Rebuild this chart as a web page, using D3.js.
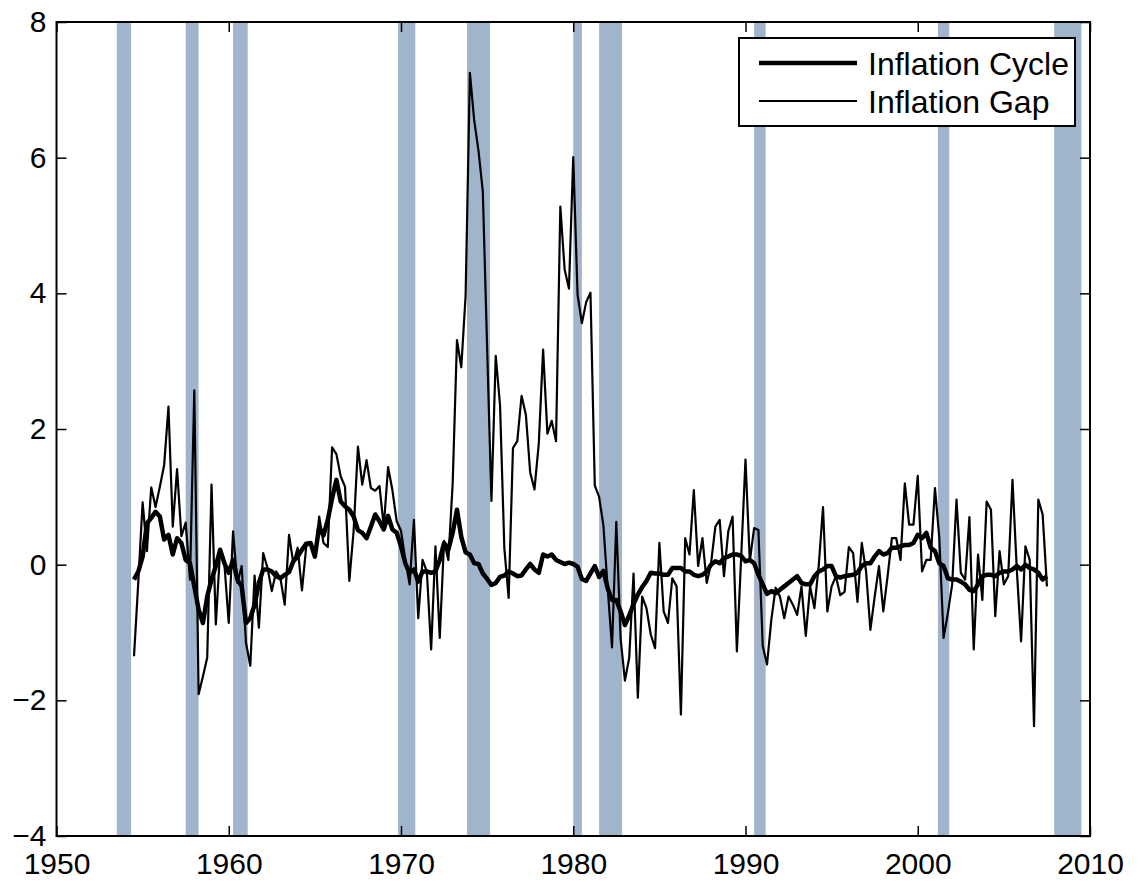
<!DOCTYPE html>
<html>
<head>
<meta charset="utf-8">
<script src="https://cdn.jsdelivr.net/npm/d3@7/dist/d3.min.js"></script>
<style>
  html, body { margin: 0; padding: 0; background: #fff; }
  svg text { font-family: "Liberation Sans", Arial, Helvetica, sans-serif; }
</style>
</head>
<body>
<svg id="chart" width="1139" height="886"></svg>
<script>
// ---------------- data ----------------
const startYear = 1954.5;   // first quarter plotted
const step = 0.25;          // quarterly

const inflationGap = [
  -1.35,-0.25,0.92,0.20,1.14,0.85,1.15,1.47,2.33,0.56,1.41,0.42,0.62,-0.22,2.57,-1.91,
  -1.65,-1.37,1.18,-0.88,0.22,0.00,-0.86,0.49,-0.27,-0.02,-1.15,-1.49,-0.16,-0.93,0.17,-0.05,
  -0.39,-0.10,-0.20,-0.59,0.44,0.02,0.25,-0.38,0.27,0.33,0.10,0.71,0.32,0.26,1.73,1.63,
  1.30,1.15,-0.24,0.50,1.74,1.18,1.54,1.13,1.09,1.16,0.56,1.44,1.10,0.64,0.50,0.07,
  -0.29,0.66,-0.79,0.07,-0.10,-1.25,0.27,-1.08,0.35,0.07,1.20,3.31,2.91,3.96,7.25,6.55,
  6.10,5.50,3.20,0.94,3.08,2.35,0.24,-0.49,1.72,1.82,2.49,2.21,1.36,1.11,1.79,3.17,
  1.93,2.12,1.82,5.28,4.35,4.07,6.01,3.98,3.56,3.87,4.01,1.17,1.00,0.58,-0.35,-1.22,
  0.63,-1.09,-1.71,-1.37,-0.13,-1.96,-0.47,-0.64,-1.03,-1.23,0.32,-0.69,-0.86,-0.20,-0.32,-2.21,
  0.39,0.15,1.10,-0.02,0.39,-0.27,0.02,0.56,0.66,-0.17,0.49,0.71,-1.28,0.12,1.55,0.05,
  0.54,0.51,-1.20,-1.47,-0.81,-0.34,-0.47,-0.79,-0.47,-0.59,-0.74,-0.32,-1.05,-0.32,-0.64,-0.02,
  0.85,-0.69,-0.32,-0.17,-0.45,-0.40,0.26,0.17,-0.55,0.32,-0.10,-0.96,-0.47,-0.02,-0.69,-0.17,
  0.39,0.39,0.07,1.20,0.59,0.59,1.31,-0.10,0.07,0.07,1.13,0.40,-1.08,-0.71,-0.29,0.96,
  -0.12,-0.22,0.70,-1.25,0.15,-0.52,0.93,0.81,-0.76,0.20,-0.29,-0.17,1.25,-0.07,-1.13,0.27,
  0.07,-2.38,0.96,0.74,-0.32
];

const inflationCycle = [
  -0.22,-0.10,0.12,0.61,0.69,0.78,0.71,0.37,0.44,0.15,0.39,0.32,0.07,0.02,-0.32,-0.66,
  -0.86,-0.47,-0.22,-0.02,0.22,0.02,-0.12,0.07,-0.22,-0.32,-0.86,-0.79,-0.59,-0.27,-0.07,-0.07,
  -0.10,-0.17,-0.20,-0.15,-0.11,0.05,0.12,0.22,0.31,0.32,0.12,0.56,0.43,0.66,0.98,1.25,
  0.93,0.86,0.81,0.71,0.51,0.47,0.39,0.56,0.74,0.64,0.52,0.72,0.52,0.47,0.27,0.02,
  -0.12,-0.07,-0.25,-0.10,-0.10,-0.12,-0.10,0.07,0.32,0.22,0.47,0.81,0.41,0.18,0.15,0.02,
  0.01,-0.13,-0.21,-0.30,-0.27,-0.18,-0.16,-0.10,-0.13,-0.17,-0.16,-0.07,0.01,-0.07,-0.12,0.15,
  0.12,0.15,0.07,0.04,0.01,0.03,0.01,-0.03,-0.21,-0.24,-0.13,-0.02,-0.18,-0.09,-0.35,-0.52,
  -0.52,-0.69,-0.89,-0.75,-0.58,-0.44,-0.33,-0.24,-0.12,-0.13,-0.13,-0.15,-0.15,-0.05,-0.05,-0.05,
  -0.10,-0.10,-0.15,-0.17,-0.15,-0.10,0.00,0.05,0.02,0.10,0.12,0.15,0.15,0.13,0.05,0.07,
  0.02,-0.15,-0.29,-0.43,-0.39,-0.42,-0.37,-0.32,-0.27,-0.22,-0.17,-0.27,-0.29,-0.29,-0.17,-0.10,
  -0.07,-0.02,-0.02,-0.17,-0.19,-0.17,-0.16,-0.15,-0.12,-0.02,0.02,0.02,0.12,0.20,0.15,0.17,
  0.25,0.25,0.27,0.29,0.29,0.32,0.44,0.39,0.47,0.25,0.20,0.02,-0.02,-0.20,-0.22,-0.22,
  -0.25,-0.29,-0.37,-0.39,-0.29,-0.17,-0.15,-0.15,-0.17,-0.12,-0.10,-0.10,-0.07,-0.02,-0.07,0.00,
  -0.05,-0.07,-0.12,-0.22,-0.17
];

// NBER recessions (start, end) in fractional years
const recessionStart = [1953.5, 1957.5, 1960.25, 1969.83, 1973.83, 1980.0, 1981.5, 1990.5, 2001.17, 2007.92];
const recessionEnd   = [1954.33, 1958.25, 1961.1, 1970.83, 1975.17, 1980.5, 1982.83, 1991.17, 2001.83, 2009.5];

const xTicks = [1950, 1960, 1970, 1980, 1990, 2000, 2010];
const yTicks = [-4, -2, 0, 2, 4, 6, 8];
const seriesNames = ["Inflation Cycle", "Inflation Gap"];

// ---------------- layout ----------------
const svg = d3.select("#chart");
const L = 56.5, R = 1090, T = 22, B = 836;

const x = d3.scaleLinear().domain([1950, 2010]).range([L, R]);
const y = d3.scaleLinear().domain([-4, 8]).range([B, T]);

const bandColor = "#a0b5cc";

// recession bands
svg.append("g").selectAll("rect")
  .data(recessionStart.map((s, i) => [s, recessionEnd[i]]))
  .join("rect")
  .attr("x", d => x(d[0]))
  .attr("width", d => x(d[1]) - x(d[0]))
  .attr("y", T)
  .attr("height", B - T)
  .attr("fill", bandColor);

const dates = inflationGap.map((_, i) => startYear + i * step);

const line = d3.line()
  .x((d, i) => x(dates[i]))
  .y(d => y(d));

svg.append("path")
  .datum(inflationGap)
  .attr("d", line)
  .attr("fill", "none")
  .attr("stroke", "#000")
  .attr("stroke-width", 2.2)
  .attr("stroke-linejoin", "round");

svg.append("path")
  .datum(inflationCycle)
  .attr("d", line)
  .attr("fill", "none")
  .attr("stroke", "#000")
  .attr("stroke-width", 4.5)
  .attr("stroke-linejoin", "round");

// axes
const fmt = d3.format("d");
const yFmt = d => (d < 0 ? "\u2212" + Math.abs(d) : String(d));

const gx = svg.append("g")
  .attr("transform", `translate(0,${B})`)
  .call(d3.axisBottom(x).tickValues(xTicks).tickFormat(fmt).tickSize(-10).tickPadding(17));
const gxTop = svg.append("g")
  .attr("transform", `translate(0,${T})`)
  .call(d3.axisTop(x).tickValues(xTicks).tickFormat("").tickSize(-10));
const gy = svg.append("g")
  .attr("transform", `translate(${L},0)`)
  .call(d3.axisLeft(y).tickValues(yTicks).tickFormat(yFmt).tickSize(-10).tickPadding(10));
const gyR = svg.append("g")
  .attr("transform", `translate(${R},0)`)
  .call(d3.axisRight(y).tickValues(yTicks).tickFormat("").tickSize(-10));

[gx, gxTop, gy, gyR].forEach(g => {
  g.select(".domain").remove();
  g.selectAll(".tick line").attr("stroke", "#000").attr("stroke-width", 1.5);
  g.selectAll(".tick text")
    .attr("fill", "#000")
    .style("font-size", "30px")
    .style("font-family", "'Liberation Sans', Arial, Helvetica, sans-serif");
});

// box
svg.append("rect")
  .attr("x", L).attr("y", T)
  .attr("width", R - L).attr("height", B - T)
  .attr("fill", "none")
  .attr("stroke", "#000")
  .attr("stroke-width", 2);

// legend
const lg = svg.append("g");
lg.append("rect")
  .attr("x", 739).attr("y", 38)
  .attr("width", 336).attr("height", 88)
  .attr("fill", "#fff")
  .attr("stroke", "#000")
  .attr("stroke-width", 2);
const legendWidths = [4.5, 2.2];
const legendY = [63, 101];
seriesNames.forEach((name, i) => {
  lg.append("line")
    .attr("x1", 759).attr("x2", 857)
    .attr("y1", legendY[i]).attr("y2", legendY[i])
    .attr("stroke", "#000")
    .attr("stroke-width", legendWidths[i]);
  lg.append("text")
    .attr("x", 868)
    .attr("y", legendY[i] + 11.5)
    .attr("fill", "#000")
    .style("font-size", "32px")
    .text(name);
});
</script>
</body>
</html>
